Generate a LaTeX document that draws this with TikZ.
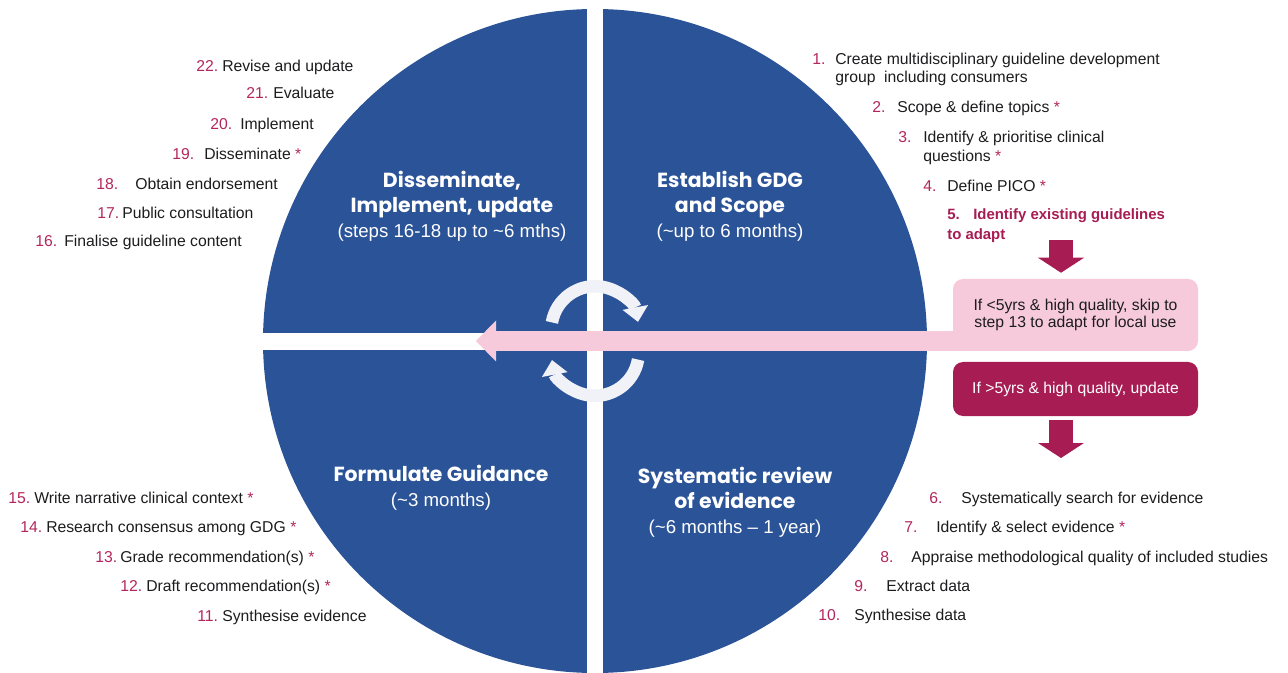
\documentclass[tikz,border=0pt]{standalone}
\usepackage{fontspec}
\setmainfont{Liberation Sans}
\newfontfamily\titlefont{Poppins}
\usepackage{xcolor}
\usetikzlibrary{arrows.meta, positioning}
\definecolor{quadblue}{RGB}{43,83,152}
\definecolor{plum}{RGB}{166,28,83}
\definecolor{blush}{RGB}{246,202,219}
\definecolor{ringgrey}{RGB}{241,242,247}
\definecolor{stepred}{RGB}{178,38,92}
\definecolor{ink}{RGB}{28,28,30}

\begin{document}
\begin{tikzpicture}[x=0.75pt,y=0.75pt,yscale=-1,xscale=1,
  steptext/.style={anchor=base west,inner sep=0pt,text=ink,font=\fontsize{11.8}{14}\selectfont},
  stepnum/.style={steptext,text=stepred},
  keystep/.style={steptext,text=plum,font=\fontsize{11.2}{14}\selectfont\bfseries},
  phase/.style={align=center,text=white,inner sep=0pt,font=\titlefont\bfseries\fontsize{15.3}{18.75}\selectfont},
  skipbox/.style={rectangle,rounded corners=7.5pt,fill=blush,text=ink,align=center,inner sep=0pt,minimum width=183.75pt,minimum height=54pt,font=\fontsize{11.8}{12.75}\selectfont},
  updatebox/.style={skipbox,fill=plum,text=white,minimum height=40.5pt},
  blockdown/.style={draw=plum,line width=18pt,-{Triangle[length=11.25pt,width=34.5pt,line width=0pt]}},
  skiparrow/.style={draw=blush,line width=15.2pt,-{Triangle[length=15pt,width=30.75pt,line width=0pt]}},
  cyclearrow/.style={draw=ringgrey,line width=9.4pt,-{Triangle[length=11pt,width=19.5pt,line width=0pt]}}
]
\useasboundingbox (0,0) rectangle (1288,673);

%Shape: Circle
\fill [quadblue] (595,341) circle [radius=332];
%Shape: Rectangle (gaps between the quarters)
\fill [white] (587,0) rectangle (603,673);
\fill [white] (255,333) rectangle (935,350);

%Curve Lines (cycle)
\coordinate (hubtop) at (595,330);
\coordinate (hubbot) at (595,352);
\draw [cyclearrow] ([shift={(-170:43.75)}]hubtop) arc [start angle=-170, end angle=-10.7, radius=43.75];
\draw [cyclearrow] ([shift={(10:43.75)}]hubbot) arc [start angle=10, end angle=169.3, radius=43.75];

% Text Node
\node [phase] (disseminate) at (452,206) {Disseminate,\\Implement, update\\{\normalfont\fontsize{14}{18.75}\selectfont (steps 16-18 up to \textasciitilde6 mths)}};
% Text Node
\node [phase] (establish) at (730,206) {Establish GDG\\and Scope\\{\normalfont\fontsize{14}{18.75}\selectfont (\textasciitilde up to 6 months)}};
% Text Node
\node [phase] (formulate) at (441,488) {Formulate Guidance\\{\normalfont\fontsize{14}{18.75}\selectfont (\textasciitilde3 months)}};
% Text Node
\node [phase] (review) at (735,502) {Systematic review\\of evidence\\{\normalfont\fontsize{14}{18.75}\selectfont (\textasciitilde6 months -- 1 year)}};

% Text Node (steps 1-5)
\node [stepnum] (n1) at (812,65) {1.};
\node [steptext] (t1) at (835,65) {Create multidisciplinary guideline development};
\node [steptext] (t1b) at (835,83) {group\ \ including consumers};
\node [stepnum] (n2) at (872,113) {2.};
\node [steptext] (t2) at (897,113) {Scope \& define topics \textcolor{stepred}{*}};
\node [stepnum] (n3) at (898,143) {3.};
\node [steptext] (t3) at (923,143) {Identify \& prioritise clinical};
\node [steptext] (t3b) at (923,162) {questions \textcolor{stepred}{*}};
\node [stepnum] (n4) at (923,192) {4.};
\node [steptext] (t4) at (947,192) {Define PICO \textcolor{stepred}{*}};
\node [keystep] (n5) at (947,220) {5.};
\node [keystep] (t5) at (973,220) {Identify existing guidelines};
\node [keystep] (t5b) at (947,240) {to adapt};

% Text Node (steps 6-10)
\node [stepnum] (n6) at (929,503) {6.};
\node [steptext] (t6) at (961,503) {Systematically search for evidence};
\node [stepnum] (n7) at (904,532) {7.};
\node [steptext] (t7) at (936,532) {Identify \& select evidence \textcolor{stepred}{*}};
\node [stepnum] (n8) at (880,562) {8.};
\node [steptext] (t8) at (911,562) {Appraise methodological quality of included studies};
\node [stepnum] (n9) at (854,591) {9.};
\node [steptext] (t9) at (886,591) {Extract data};
\node [stepnum] (n10) at (818,620) {10.};
\node [steptext] (t10) at (854,620) {Synthesise data};

% Text Node (steps 11-15)
\node [stepnum] (n11) at (197,621) {11.};
\node [steptext] (t11) at (222,621) {Synthesise evidence};
\node [stepnum] (n12) at (120,591) {12.};
\node [steptext] (t12) at (146,591) {Draft recommendation(s) \textcolor{stepred}{*}};
\node [stepnum] (n13) at (95,562) {13.};
\node [steptext] (t13) at (120,562) {Grade recommendation(s) \textcolor{stepred}{*}};
\node [stepnum] (n14) at (20,532) {14.};
\node [steptext] (t14) at (46,532) {Research consensus among GDG \textcolor{stepred}{*}};
\node [stepnum] (n15) at (8,503) {15.};
\node [steptext] (t15) at (34,503) {Write narrative clinical context \textcolor{stepred}{*}};

% Text Node (steps 16-22)
\node [stepnum] (n16) at (35,247) {16.};
\node [steptext] (t16) at (64,247) {Finalise guideline content};
\node [stepnum] (n17) at (97,219) {17.};
\node [steptext] (t17) at (122,219) {Public consultation};
\node [stepnum] (n18) at (96,190) {18.};
\node [steptext] (t18) at (135,190) {Obtain endorsement};
\node [stepnum] (n19) at (172,160) {19.};
\node [steptext] (t19) at (204,160) {Disseminate \textcolor{stepred}{*}};
\node [stepnum] (n20) at (210,130) {20.};
\node [steptext] (t20) at (240,130) {Implement};
\node [stepnum] (n21) at (246,99) {21.};
\node [steptext] (t21) at (273,99) {Evaluate};
\node [stepnum] (n22) at (196,72) {22.};
\node [steptext] (t22) at (222,72) {Revise and update};

%Shape: Rounded Rect
\node [skipbox] (skip) at (1075.5,315) {If <5yrs \& high quality, skip to\\step 13 to adapt for local use};
%Shape: Rounded Rect
\node [updatebox] (update) at (1075.5,389) {If >5yrs \& high quality, update};

%Straight Lines
\coordinate (adaptdrop) at (1061,240);
\draw [blockdown, shorten >=4.5pt] (adaptdrop) -- (adaptdrop |- skip.north);
%Straight Lines
\coordinate (reviewdrop) at (1061,458);
\draw [blockdown, shorten <=3pt] (update.south -| reviewdrop) -- (reviewdrop);
%Straight Lines
\coordinate (skipto) at (476,341);
\draw [skiparrow, shorten <=-12pt] (skip.west |- skipto) -- (skipto);

\end{tikzpicture}
\end{document}
